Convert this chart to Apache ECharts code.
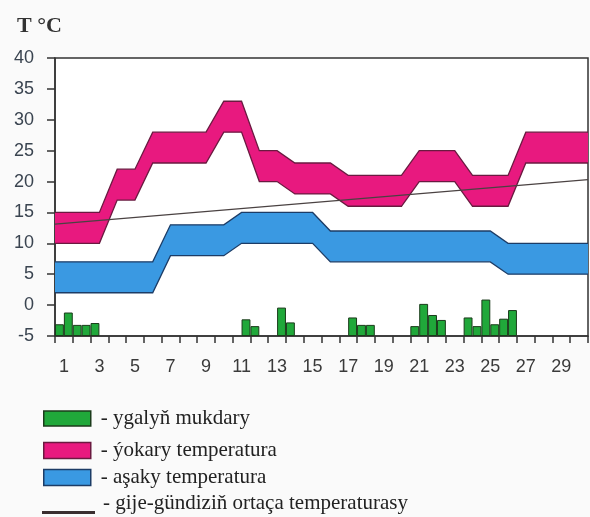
<!DOCTYPE html>
<html>
<head>
<meta charset="utf-8">
<script src="https://cdn.jsdelivr.net/npm/echarts@6/dist/echarts.min.js"></script>
<style>
html,body{margin:0;padding:0;background:#fafafa;}
#c{width:590px;height:517px;}
</style>
</head>
<body>
<div id="c"></div>
<script>
// Day categories (x-axis tick labels)
var days = ['1','2','3','4','5','6','7','8','9','10','11','12','13','14','15','16','17','18','19','20','21','22','23','24','25','26','27','28','29','30'];
// Upper temperature band (ýokary temperatura): top & bottom per day, °C
var highTop    = [15,15,15,22,22,28,28,28,28,33,33,25,25,23,23,23,21,21,21,21,25,25,25,21,21,21,28,28,28,28];
var highBottom = [10,10,10,17,17,23,23,23,23,28,28,20,20,18,18,18,16,16,16,16,20,20,20,16,16,16,23,23,23,23];
// Lower temperature band (aşaky temperatura): top & bottom per day, °C
var lowTop     = [7,7,7,7,7,7,13,13,13,13,15,15,15,15,15,12,12,12,12,12,12,12,12,12,12,10,10,10,10,10];
var lowBottom  = [2,2,2,2,2,2,8,8,8,8,10,10,10,10,10,7,7,7,7,7,7,7,7,7,7,5,5,5,5,5];
// Precipitation (ygalyň mukdary): bar heights above the -5 baseline, per half-day slot (60 slots)
var rain = [1.9,3.8,1.8,1.8,2.1,'-','-','-','-','-',
            '-','-','-','-','-','-','-','-','-','-',
            '-',2.7,1.6,'-','-',4.6,2.2,'-','-','-',
            '-','-','-',3.0,1.8,1.8,'-','-','-','-',
            1.6,5.2,3.4,2.6,'-','-',3.0,1.6,5.9,1.9,
            2.8,4.2,'-','-','-','-','-','-','-','-'];
// Day-night mean temperature line: [day position, °C] at the left and right edges
var avgStart = [0.5, 13.1];
var avgEnd   = [30.5, 20.3];
// y-axis range
var yMin = -5, yMax = 40, yStep = 5;

var slots = [];
for (var i = 0; i < rain.length; i++) slots.push(String(i));

// band points: [x, top, bottom], extended to the plot edges
function bandPoints(top, bottom) {
  var n = top.length;
  var pts = [[0.5, top[0], bottom[0]]];
  for (var i = 0; i < n; i++) pts.push([i + 1, top[i], bottom[i]]);
  pts.push([n + 0.5, top[n - 1], bottom[n - 1]]);
  return pts;
}

var PINK = '#e8197f', PINK_EDGE = '#6a1a40';
var BLUE = '#3a99e2', BLUE_EDGE = '#1c3c66';
var GREEN = '#20a83a', GREEN_EDGE = '#1b3b1b';
var AXIS = '#333';
var serif = 'Liberation Serif';
var sans = 'Liberation Sans';

function bandSeries(name, top, bottom, fill, edge) {
  var pts = bandPoints(top, bottom);
  return {
    name: name, type: 'custom', xAxisIndex: 1, yAxisIndex: 0, z: 3,
    data: pts,
    encode: {x: 0, y: [1, 2]},
    itemStyle: {color: fill},
    renderItem: function (params, api) {
      if (params.dataIndex !== 0) return null;
      var poly = [];
      for (var i = 0; i < pts.length; i++) poly.push(api.coord([pts[i][0], pts[i][1]]));
      for (var j = pts.length - 1; j >= 0; j--) poly.push(api.coord([pts[j][0], pts[j][2]]));
      var upper = [], lower = [];
      for (var k = 0; k < pts.length; k++) {
        upper.push(api.coord([pts[k][0], pts[k][1]]));
        lower.push(api.coord([pts[k][0], pts[k][2]]));
      }
      return {
        type: 'group',
        children: [
          {type: 'polygon', shape: {points: poly}, style: {fill: fill, stroke: null}},
          {type: 'polyline', shape: {points: upper}, style: {fill: null, stroke: edge, lineWidth: 1.3}},
          {type: 'polyline', shape: {points: lower}, style: {fill: null, stroke: edge, lineWidth: 1.3}}
        ]
      };
    }
  };
}

var chart = echarts.init(document.getElementById('c'), null, {renderer: 'canvas'});
var legendText = {fontFamily: serif, fontSize: 21, color: '#222', padding: [0, 0, 0, 5]};
chart.setOption({
  backgroundColor: '#fafafa',
  animation: false,
  title: {
    text: 'T °C', left: 12, top: 10,
    textStyle: {fontFamily: serif, fontWeight: 'bold', fontSize: 22, color: '#333'}
  },
  grid: {left: 55, top: 58, right: 2, bottom: 181, show: true, backgroundColor: '#ffffff', borderColor: AXIS, borderWidth: 1.5},
  xAxis: [
    {
      type: 'category', data: days, boundaryGap: true,
      axisLine: {show: true, onZero: false, lineStyle: {color: AXIS, width: 1.5}},
      axisTick: {show: true, interval: 0, length: 7, lineStyle: {color: AXIS, width: 1.5}},
      axisLabel: {interval: 1, margin: 22, fontSize: 18, fontFamily: sans, color: '#3a3a3a'},
      splitLine: {show: false}
    },
    {type: 'value', min: 0.5, max: 30.5, show: false},
    {type: 'category', data: slots, boundaryGap: true, show: false}
  ],
  yAxis: [
    {
      type: 'value', min: yMin, max: yMax, interval: yStep,
      axisLine: {show: true, onZero: false, lineStyle: {color: AXIS, width: 1.5}},
      axisTick: {show: true, length: 8, lineStyle: {color: AXIS, width: 1.5}},
      axisLabel: {margin: 21, fontSize: 18, fontFamily: sans, color: '#3a4450'},
      splitLine: {show: false}
    },
    {type: 'value', min: 0, max: yMax - yMin, show: false}
  ],
  legend: [
    {
      left: 43, top: 408, padding: 0, itemWidth: 47, itemHeight: 15,
      formatter: '- {name}', textStyle: legendText, selectedMode: false,
      data: [{name: 'ygalyň mukdary', icon: 'rect', itemStyle: {color: GREEN, borderColor: GREEN_EDGE, borderWidth: 1.5}}]
    },
    {
      left: 43, top: 440, padding: 0, itemWidth: 47, itemHeight: 16,
      formatter: '- {name}', textStyle: legendText, selectedMode: false,
      data: [{name: 'ýokary temperatura', icon: 'rect', itemStyle: {color: PINK, borderColor: PINK_EDGE, borderWidth: 1.5}}]
    },
    {
      left: 43, top: 467, padding: 0, itemWidth: 47, itemHeight: 16,
      formatter: '- {name}', textStyle: legendText, selectedMode: false,
      data: [{name: 'aşaky temperatura', icon: 'rect', itemStyle: {color: BLUE, borderColor: BLUE_EDGE, borderWidth: 1.5}}]
    },
    {
      left: 42, top: 492, padding: 0, itemWidth: 53, itemHeight: 22,
      formatter: '- {name}', selectedMode: false,
      textStyle: {fontFamily: serif, fontSize: 21, color: '#222', padding: [0, 0, 0, 3]},
      data: [{name: 'gije-gündiziň ortaça temperaturasy', icon: 'path://M0,0M0,19H53V22H0Z', itemStyle: {color: '#3a2e30', borderWidth: 0}}]
    }
  ],
  series: [
    {
      name: 'ygalyň mukdary', type: 'bar', xAxisIndex: 2, yAxisIndex: 1,
      data: rain, barWidth: '100%', barGap: '0%',
      itemStyle: {color: GREEN, borderColor: GREEN_EDGE, borderWidth: 1}
    },
    bandSeries('ýokary temperatura', highTop, highBottom, PINK, PINK_EDGE),
    bandSeries('aşaky temperatura', lowTop, lowBottom, BLUE, BLUE_EDGE),
    {
      name: 'gije-gündiziň ortaça temperaturasy', type: 'line', xAxisIndex: 1, yAxisIndex: 0,
      data: [avgStart, avgEnd], symbol: 'none', z: 5,
      color: '#3a2e30',
      lineStyle: {color: '#4a4242', width: 1.3}
    }
  ]
});
</script>
</body>
</html>
